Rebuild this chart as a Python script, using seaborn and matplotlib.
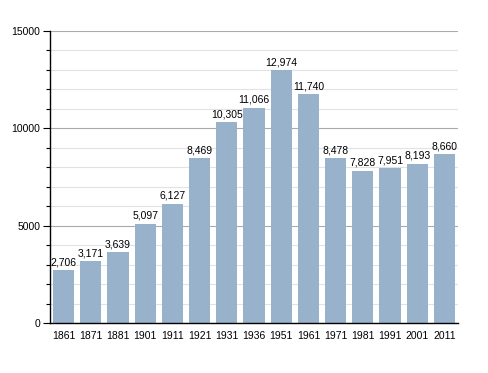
import matplotlib
matplotlib.use("Agg")
import matplotlib.pyplot as plt
import seaborn as sns
import pandas as pd
from matplotlib.ticker import MultipleLocator

years = ["1861", "1871", "1881", "1901", "1911", "1921", "1931", "1936",
         "1951", "1961", "1971", "1981", "1991", "2001", "2011"]
population = [2706, 3171, 3639, 5097, 6127, 8469, 10305, 11066,
              12974, 11740, 8478, 7828, 7951, 8193, 8660]

df = pd.DataFrame({"year": years, "pop": population})

sns.set_style("white")
plt.rcParams["font.family"] = ["Liberation Sans", "DejaVu Sans"]
plt.rcParams["text.color"] = "black"
plt.rcParams["xtick.color"] = "black"
plt.rcParams["ytick.color"] = "black"

fig = plt.figure(figsize=(4.88, 3.73), dpi=100)
ax = fig.add_axes([50 / 488, 1 - 323 / 373, 408 / 488, 292 / 373])
ax.set_axisbelow(True)

sns.barplot(data=df, x="year", y="pop", color="#98b2cc", saturation=1,
            width=0.78, edgecolor="none", linewidth=0, ax=ax)

ax.set_ylim(0, 15000)
ax.set_xlim(-0.5, len(years) - 0.5)
ax.yaxis.set_major_locator(MultipleLocator(5000))
ax.yaxis.set_minor_locator(MultipleLocator(1000))
ax.grid(axis="y", which="minor", color="#e2e2e2", linewidth=0.8)
ax.grid(axis="y", which="major", color="#aaaaaa", linewidth=0.8)

for s in ["top", "right"]:
    ax.spines[s].set_visible(False)
for s in ["left", "bottom"]:
    ax.spines[s].set_color("black")
    ax.spines[s].set_linewidth(1)
    ax.spines[s].set_zorder(5)

ax.tick_params(axis="y", which="major", left=True, direction="out", length=5,
               width=0.8, labelsize=7.5, pad=2, labelcolor="black")
ax.tick_params(axis="y", which="minor", left=True, direction="out", length=3,
               width=0.8)
ax.tick_params(axis="x", bottom=False, labelsize=7.5, pad=2, labelcolor="black")
ax.set_xlabel("")
ax.set_ylabel("")

for i, v in enumerate(population):
    ax.text(i, v + 150, f"{v:,}", ha="center", va="bottom", fontsize=7.5,
            color="black", zorder=6)

fig.savefig("out.png", dpi=100)
